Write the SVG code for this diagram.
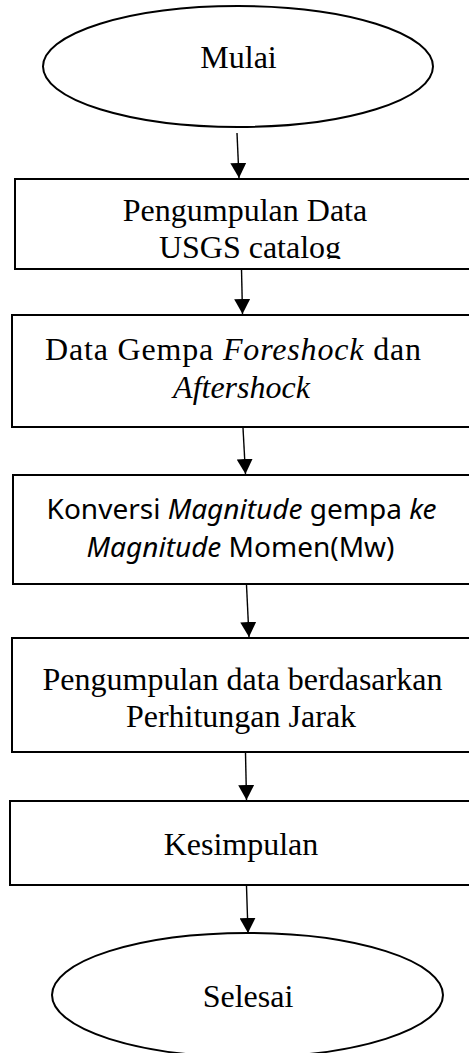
<svg xmlns="http://www.w3.org/2000/svg" width="469" height="1053" viewBox="0 0 469 1053">
  <style>
    .shape { fill: #ffffff; stroke: #000000; stroke-width: 2; }
    .serif { font-family: "Liberation Serif", "Times New Roman", serif; font-size: 32px; fill: #000000; }
    .sans { font-family: "Noto Sans", "Open Sans", sans-serif; font-size: 28px; fill: #000000; }
    .it { font-style: italic; }
    .link { stroke: #000000; stroke-width: 1.4; fill: none; marker-end: url(#head); }
  </style>
  <defs>
    <marker id="head" markerUnits="userSpaceOnUse" markerWidth="16" markerHeight="16" refX="15" refY="8" orient="auto">
      <path d="M0,0 L15,8 L0,16 Z" fill="#000000"/>
    </marker>
    <clipPath id="clip-usgs">
      <rect x="0" y="180" width="469" height="79"/>
    </clipPath>
  </defs>

  <rect width="469" height="1053" fill="#ffffff"/>

  <g id="connectors">
    <line class="link" x1="237" y1="133" x2="239" y2="178"/>
    <line class="link" x1="241.5" y1="269" x2="242.5" y2="314"/>
    <line class="link" x1="243" y1="428" x2="245.5" y2="474"/>
    <line class="link" x1="246.5" y1="585" x2="249" y2="637"/>
    <line class="link" x1="245.5" y1="753" x2="246.5" y2="800"/>
    <line class="link" x1="246.5" y1="886" x2="248" y2="933"/>
  </g>

  <g id="start">
    <ellipse class="shape" cx="238" cy="66.5" rx="195" ry="60.5"/>
    <text class="serif" x="238.5" y="68" text-anchor="middle">Mulai</text>
  </g>

  <g id="collect-usgs">
    <rect class="shape" x="15" y="179" width="470" height="90"/>
    <text class="serif" x="245" y="221" text-anchor="middle">Pengumpulan Data</text>
    <g clip-path="url(#clip-usgs)">
      <text class="serif" x="250" y="258" text-anchor="middle">USGS catalog</text>
    </g>
  </g>

  <g id="quake-data">
    <rect class="shape" x="12" y="315" width="470" height="112"/>
    <text class="serif" x="233" y="360" text-anchor="middle" textLength="376" lengthAdjust="spacing">Data Gempa <tspan class="it">Foreshock</tspan> dan</text>
    <text class="serif it" x="241.5" y="398" text-anchor="middle">Aftershock</text>
  </g>

  <g id="magnitude-conversion">
    <rect class="shape" x="13" y="475" width="470" height="109"/>
    <text class="sans" x="241.5" y="519" text-anchor="middle">Konversi <tspan class="it">Magnitude</tspan> gempa <tspan class="it">ke</tspan></text>
    <text class="sans" x="240.5" y="557" text-anchor="middle"><tspan class="it">Magnitude</tspan> Momen(Mw)</text>
  </g>

  <g id="distance-selection">
    <rect class="shape" x="12" y="638" width="470" height="114"/>
    <text class="serif" x="242.5" y="690" text-anchor="middle">Pengumpulan data berdasarkan</text>
    <text class="serif" x="241" y="727" text-anchor="middle">Perhitungan Jarak</text>
  </g>

  <g id="conclusion">
    <rect class="shape" x="10" y="801" width="470" height="84"/>
    <text class="serif" x="241" y="855" text-anchor="middle">Kesimpulan</text>
  </g>

  <g id="end">
    <ellipse class="shape" cx="247.5" cy="995" rx="195.5" ry="62"/>
    <text class="serif" x="248" y="1007" text-anchor="middle">Selesai</text>
  </g>
</svg>
